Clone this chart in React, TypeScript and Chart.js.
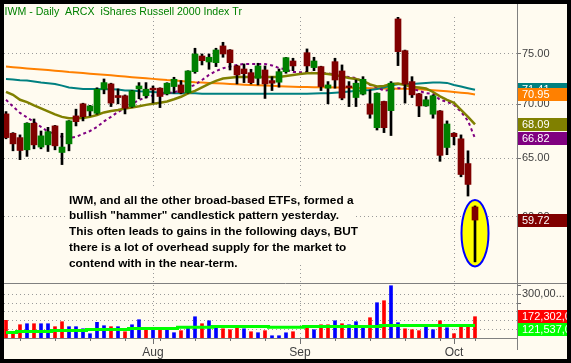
import React, { useEffect, useRef } from 'react';
import { Chart, registerables } from 'chart.js';

Chart.register(...registerables);

const FONT = "'Liberation Sans', Arial, sans-serif";
const CREAM = '#fffbf0';
const GRID = '#9a9a9a';
const AXIS = '#808080';

const TITLE = 'IWM - Daily  ARCX  iShares Russell 2000 Index Tr';
const NOTE_LINES = [
  'IWM, and all the other broad-based ETFs, formed a',
  'bullish "hammer" candlestick pattern yesterday.',
  'This often leads to gains in the following days, BUT',
  'there is a lot of overhead supply for the market to',
  'contend with in the near-term.',
];

// Daily slots, early Jul 2008 .. Oct 6 2008 (slot 42 = Labor Day, no trading)
const SLOT_COUNT = 68;
const MONTH_SLOTS = [21, 42, 64];
const MONTH_LABELS = ['Aug', 'Sep', 'Oct'];
const WEEK_SLOTS = [2, 7, 12, 17, 22, 27, 32, 37, 47, 52, 57, 62, 67];
const PRICE_TICKS = [60, 65, 70, 75];
const PRICE_MIN = 54.78;
const PRICE_MAX = 78.9;
const VOLUME_TICKS = [100, 150, 200, 250, 300, 350];
const VOLUME_GRID_MAX = 300;
const VOLUME_LABELED_TICK = 300;
const VOLUME_MIN = 50;
const VOLUME_MAX = 365.7;

const opens = [69.08, 67.27, 66.87, 65.76, 68.2, 66.01, 66.21, 67.95, 65.52, 66.3, 68.89, 70.04, 69.36, 69.14, 71.46, 71.98, 70.84, 70.82, 69.78, 71.49, 70.82, 71.56, 71.56, 71.01, 71.72, 71.88, 71.13, 73.2, 74.79, 74.18, 74.11, 75.83, 75.41, 73.78, 73.47, 73.1, 72.54, 73.37, 72.31, 72.15, 73.2, 74.28, null, 75.13, 73.61, 73.71, 71.56, 74.21, 73.27, 71.78, 70.65, 70.98, 70.04, 67.79, 70.27, 69.39, 78.69, 75.34, 72.21, 71.01, 69.84, 69.05, 69.36, 65.97, 67.27, 66.76, 64.53, 60.8];
const highs = [69.3, 67.33, 67.12, 68.25, 68.6, 67.48, 67.82, 68.0, 67.27, 68.45, 69.53, 70.1, 69.9, 71.6, 72.47, 72.05, 71.49, 70.9, 71.35, 72.11, 72.11, 71.78, 71.6, 72.1, 72.64, 72.31, 73.3, 75.59, 75.0, 75.0, 75.59, 76.21, 75.45, 73.85, 73.98, 73.44, 74.05, 73.78, 72.7, 73.47, 74.65, 74.56, null, 75.52, 74.66, 73.75, 72.21, 74.56, 73.88, 72.21, 72.37, 72.7, 71.39, 71.1, 70.3, 72.21, 79.05, 75.4, 72.7, 71.05, 70.75, 70.9, 69.4, 68.42, 67.33, 67.12, 65.67, 60.89];
const lows = [66.76, 65.67, 64.88, 65.17, 65.85, 65.85, 65.61, 65.76, 64.44, 65.67, 67.95, 68.42, 68.89, 69.05, 71.01, 69.78, 70.04, 69.08, 69.7, 70.53, 70.59, 70.14, 69.68, 70.9, 71.07, 71.01, 71.07, 73.04, 73.88, 73.44, 73.71, 74.66, 73.37, 71.98, 72.11, 71.98, 71.88, 70.56, 71.33, 71.66, 73.04, 73.3, null, 73.2, 73.3, 71.33, 70.04, 71.56, 70.43, 69.78, 69.78, 70.9, 68.67, 67.57, 67.33, 67.06, 73.81, 70.11, 70.65, 68.82, 69.8, 68.67, 64.73, 65.32, 66.21, 63.37, 61.72, 56.39];
const closes = [66.87, 66.3, 65.7, 68.2, 66.21, 67.03, 67.42, 66.12, 66.01, 68.42, 68.35, 68.82, 69.84, 71.46, 72.11, 70.11, 70.65, 69.62, 71.3, 71.78, 71.46, 71.39, 70.75, 72.05, 72.44, 71.13, 73.27, 75.0, 74.31, 74.66, 75.41, 75.0, 74.11, 72.87, 73.0, 72.11, 73.78, 71.98, 72.05, 73.2, 74.62, 73.78, null, 73.78, 74.28, 71.72, 71.88, 72.37, 70.6, 71.62, 72.05, 72.44, 69.05, 71.07, 67.79, 72.05, 75.24, 71.95, 70.91, 69.84, 70.43, 70.82, 65.26, 68.13, 66.96, 63.57, 62.71, 59.72];

// volume, millions of shares; volumeUp: 1 = blue (up) bar, 0 = red (down) bar
const volumes = [151.6, 78.7, 126.3, 132, 132, 132, 132, 115, 143.6, 115, 115, 103, 74.7, 140, 120.6, 115, 115, 86, 126, 155, 97.6, 109, 109, 97.6, 80.4, 92, 115, 172, 132, 149, 120.6, 103, 97.6, 109, 103, 86, 80.4, 92, 63, 63, 80, 86, null, 115, 97.6, 126, 126, 149, 132, 126, 143.6, 120.6, 166.5, 252.6, 264, 350, 138, 103, 97.6, 92, 115, 97.6, 149, 109, 74.7, 120.6, 120.6, 172.302];
const volumeUp = [0, 0, 0, 1, 0, 1, 1, 0, 0, 1, 1, 1, 1, 1, 1, 0, 1, 0, 1, 1, 0, 1, 0, 1, 1, 0, 1, 1, 0, 1, 1, 0, 0, 0, 1, 0, 1, 0, 1, 1, 1, 0, null, 0, 1, 0, 0, 1, 0, 1, 1, 1, 0, 1, 0, 1, 1, 0, 0, 0, 1, 1, 0, 1, 0, 0, 0, 0];
const volumeMA = [82, 82, 88, 88, 88, 88, 88, 93.6, 93.6, 93.6, 93.6, 93.6, 99, 99, 99, 99, 99, 99, 105, 105, 105, 105, 105, 105, 105, 111, 111, 111, 111, 111, 116.6, 116.6, 116.6, 116.6, 116.6, 116.6, 116.6, 116.6, 111, 111, 111, 111, 111, 116.6, 116.6, 116.6, 116.6, 116.6, 116.6, 116.6, 116.6, 116.6, 116.6, 116.6, 121.5, 121.5, 121.5, 121.5, 121.5, 121.5, 121.5, 121.5, 121.5, 121.5, 121.5, 121.5, 121.5, 121.537];

// price moving averages
const maOrange = [73.71, 73.65, 73.59, 73.53, 73.47, 73.42, 73.36, 73.3, 73.24, 73.17, 73.12, 73.06, 73.0, 72.94, 72.89, 72.83, 72.77, 72.71, 72.65, 72.6, 72.54, 72.48, 72.42, 72.36, 72.32, 72.26, 72.2, 72.14, 72.11, 72.08, 72.04, 72.01, 71.98, 71.95, 71.91, 71.88, 71.85, 71.82, 71.79, 71.76, 71.73, 71.7, 71.68, 71.67, 71.66, 71.65, 71.64, 71.63, 71.62, 71.61, 71.59, 71.57, 71.55, 71.54, 71.53, 71.52, 71.51, 71.5, 71.48, 71.46, 71.41, 71.36, 71.31, 71.25, 71.19, 71.12, 71.06, 70.95];
const maTeal = [72.47, 72.42, 72.35, 72.31, 72.23, 72.13, 72.05, 71.98, 71.81, 71.62, 71.56, 71.49, 71.49, 71.47, 71.46, 71.46, 71.44, 71.34, 71.33, 71.27, 71.23, 71.18, 71.13, 71.1, 71.07, 71.07, 71.07, 71.07, 71.01, 71.01, 71.01, 71.01, 71.01, 71.01, 71.01, 71.01, 71.01, 71.01, 71.01, 71.01, 71.01, 71.01, 71.01, 71.01, 71.04, 71.07, 71.07, 71.12, 71.17, 71.23, 71.28, 71.34, 71.39, 71.49, 71.63, 71.83, 71.95, 71.98, 71.98, 72.03, 72.08, 72.11, 72.11, 72.08, 71.88, 71.72, 71.56, 71.41];
const maOlive = [71.2, 70.91, 70.43, 70.2, 69.89, 69.6, 69.32, 69.03, 68.8, 68.67, 68.67, 68.7, 68.8, 68.98, 69.22, 69.36, 69.45, 69.6, 69.7, 69.8, 69.94, 70.04, 70.14, 70.27, 70.48, 70.72, 71.05, 71.3, 71.63, 71.98, 72.28, 72.52, 72.6, 72.67, 72.67, 72.67, 72.67, 72.67, 72.67, 72.67, 72.77, 72.87, 72.97, 73.04, 73.04, 73.04, 72.97, 72.87, 72.72, 72.57, 72.47, 72.28, 71.93, 71.73, 71.78, 71.98, 72.03, 71.88, 71.68, 71.63, 71.53, 71.19, 70.76, 70.43, 70.14, 69.46, 68.8, 68.09];
const maPurple = [70.43, 69.78, 69.17, 68.75, 68.33, 67.86, 67.42, 67.18, 66.94, 66.82, 66.94, 67.21, 67.48, 67.86, 68.37, 68.8, 69.27, 69.62, 70.04, 70.4, 70.69, 70.86, 70.98, 71.07, 71.16, 71.34, 71.63, 71.88, 72.37, 72.87, 73.27, 73.54, 73.72, 73.88, 73.98, 73.98, 73.98, 73.98, 73.83, 73.57, 73.42, 73.17, 73.14, 73.14, 73.07, 73.04, 73.04, 72.92, 72.7, 72.67, 72.57, 72.18, 71.88, 71.63, 71.33, 71.39, 71.56, 71.56, 71.53, 71.3, 71.07, 71.01, 70.43, 70.24, 69.94, 69.27, 68.42, 66.82];

const slots = Array.from({ length: SLOT_COUNT }, (_, i) => i);
const traded = slots.filter((i) => opens[i] != null);
const lastSlot = traded[traded.length - 1];

const fmtVolume = (v: number) => Math.round(v * 1e6).toLocaleString('en-US');

const decorPlugin = {
  id: 'decor',
  beforeDatasetsDraw(chart: any) {
    const { ctx } = chart;
    const x = chart.scales.x;
    const y = chart.scales.y;
    const cx = x.getPixelForValue(lastSlot);
    const top = y.getPixelForValue(highs[lastSlot]) - 6;
    const bot = y.getPixelForValue(lows[lastSlot]) + 4.5;
    ctx.save();
    ctx.beginPath();
    ctx.ellipse(cx, (top + bot) / 2, 13.5, (bot - top) / 2, 0, 0, Math.PI * 2);
    ctx.fillStyle = '#ffff00';
    ctx.fill();
    ctx.lineWidth = 2;
    ctx.strokeStyle = '#0000ff';
    ctx.stroke();
    ctx.restore();
  },
  afterDraw(chart: any) {
    const { ctx, chartArea } = chart;
    const x = chart.scales.x;
    const y = chart.scales.y;
    const vol = chart.scales.vol;
    const W = chart.width;
    const H = chart.height;
    ctx.save();

    // separator between panes and right axis line
    ctx.strokeStyle = AXIS;
    ctx.lineWidth = 1;
    ctx.beginPath();
    ctx.moveTo(chartArea.left, Math.round(y.bottom) + 0.5);
    ctx.lineTo(W, Math.round(y.bottom) + 0.5);
    ctx.moveTo(Math.round(chartArea.right) + 0.5, 0);
    ctx.lineTo(Math.round(chartArea.right) + 0.5, H - 9);
    ctx.stroke();

    // weekly minor ticks
    ctx.strokeStyle = '#707070';
    ctx.beginPath();
    WEEK_SLOTS.forEach((s) => {
      const px = Math.round(x.getPixelForValue(s)) + 0.5;
      ctx.moveTo(px, chartArea.bottom);
      ctx.lineTo(px, chartArea.bottom + 3);
    });
    ctx.stroke();

    // title
    ctx.font = `10.6px ${FONT}`;
    ctx.fillStyle = '#008000';
    ctx.textBaseline = 'alphabetic';
    ctx.textAlign = 'left';
    ctx.fillText(TITLE, 0.5, 11);

    // note
    const noteLeft = chartArea.left + 61;
    const noteTop = 184;
    ctx.fillStyle = CREAM;
    ctx.fillRect(noteLeft, noteTop, 291, 77);
    ctx.font = `bold 11.8px ${FONT}`;
    ctx.fillStyle = '#000000';
    NOTE_LINES.forEach((line, k) => {
      ctx.fillText(line, noteLeft + 4, noteTop + 15.5 + k * 15.8);
    });

    // value tags on the right axis
    const right = chartArea.right + 1;
    const tag = (cy: number, bg: string, text: string) => {
      ctx.fillStyle = bg;
      ctx.fillRect(right, Math.round(cy - 6.5), 70, 13);
      ctx.fillStyle = '#ffffff';
      ctx.font = `11px ${FONT}`;
      ctx.textBaseline = 'middle';
      ctx.fillText(text, right + 4, Math.round(cy - 6.5) + 7);
    };
    tag(y.getPixelForValue(maTeal[lastSlot]), '#008080', maTeal[lastSlot].toFixed(2));
    tag(y.getPixelForValue(maOrange[lastSlot]), '#ff8000', maOrange[lastSlot].toFixed(2));
    tag(y.getPixelForValue(maOlive[lastSlot]), '#808000', maOlive[lastSlot].toFixed(2));
    tag(y.getPixelForValue(maPurple[lastSlot]), '#800080', maPurple[lastSlot].toFixed(2));
    tag(y.getPixelForValue(closes[lastSlot]), '#800000', closes[lastSlot].toFixed(2));

    ctx.save();
    ctx.beginPath();
    ctx.rect(right, vol.top + 1, 100, vol.bottom - vol.top - 1);
    ctx.clip();
    const vy = vol.getPixelForValue(volumes[lastSlot]);
    const my = Math.max(vol.getPixelForValue(volumeMA[lastSlot]), vy + 13);
    tag(vy, '#ff0000', fmtVolume(volumes[lastSlot]));
    tag(my, '#00ff00', fmtVolume(volumeMA[lastSlot]));
    ctx.restore();

    ctx.restore();
  },
};

export default function App() {
  const ref = useRef<HTMLCanvasElement | null>(null);

  useEffect(() => {
    document.body.style.margin = '0';
    const canvas = ref.current;
    if (!canvas) return;
    const tickFont = { family: FONT, size: 11 };

    const line = (label: string, values: number[], color: string, width: number, order: number, extra: any = {}) => ({
      type: 'line',
      label,
      data: slots.map((i) => ({ x: i, y: values[i] })),
      borderColor: color,
      borderWidth: width,
      pointRadius: 0,
      tension: 0,
      fill: false,
      yAxisID: 'y',
      order,
      ...extra,
    });

    const chart = new Chart(canvas, {
      type: 'bar',
      data: {
        datasets: [
          line('EMA', maOlive, '#808000', 2.5, 3) as any,
          line('MA short', maPurple, '#800080', 2, 4, { borderDash: [3, 3] }) as any,
          line('MA mid', maTeal, '#008080', 2, 5) as any,
          line('MA long', maOrange, '#ff8000', 2, 6) as any,
          {
            type: 'bar',
            label: 'Range',
            data: traded.map((i) => ({ x: i, y: [lows[i], highs[i]] })),
            backgroundColor: '#000000',
            barThickness: 2,
            grouped: false,
            yAxisID: 'y',
            order: 2,
          } as any,
          {
            type: 'bar',
            label: 'Body',
            data: traded.map((i) => ({ x: i, y: [opens[i], closes[i]] })),
            backgroundColor: traded.map((i) => ((closes[i] as number) >= (opens[i] as number) ? '#008000' : '#800000')),
            barThickness: 6,
            minBarLength: 1,
            grouped: false,
            yAxisID: 'y',
            order: 1,
          } as any,
          {
            type: 'bar',
            label: 'Volume',
            data: traded.map((i) => ({ x: i, y: volumes[i] })),
            base: VOLUME_MIN,
            backgroundColor: traded.map((i) => (volumeUp[i] ? '#0000ff' : '#ff0000')),
            barThickness: 3,
            grouped: false,
            yAxisID: 'vol',
            order: 8,
          } as any,
          {
            type: 'line',
            label: 'Volume MA',
            data: slots.map((i) => ({ x: i, y: volumeMA[i] })),
            borderColor: '#00ff00',
            borderWidth: 3,
            pointRadius: 0,
            stepped: 'middle',
            yAxisID: 'vol',
            order: 7,
          } as any,
        ],
      },
      options: {
        responsive: false,
        maintainAspectRatio: false,
        animation: false,
        devicePixelRatio: 1,
        events: [],
        layout: { padding: { top: 13, left: 0, right: 0, bottom: 0 } },
        plugins: { legend: { display: false }, tooltip: { enabled: false }, title: { display: false } },
        scales: {
          x: {
            type: 'linear',
            position: 'bottom',
            offset: false,
            min: -2 / 7,
            max: -2 / 7 + 513 / 7,
            afterBuildTicks: (s: any) => {
              s.ticks = MONTH_SLOTS.map((v) => ({ value: v }));
            },
            afterFit: (s: any) => {
              s.height = 21;
            },
            ticks: {
              autoSkip: false,
              maxRotation: 0,
              padding: 1,
              color: '#404040',
              font: { family: FONT, size: 12 },
              callback: (v: any) => MONTH_LABELS[MONTH_SLOTS.indexOf(Number(v))] ?? '',
            },
            grid: { offset: false, color: GRID, lineWidth: 1, tickLength: 6, tickColor: '#707070', tickBorderDash: [] },
            border: { display: true, color: AXIS, dash: [1, 3] },
          },
          y: {
            type: 'logarithmic',
            position: 'right',
            stack: 'panes',
            stackWeight: 266,
            min: PRICE_MIN,
            max: PRICE_MAX,
            afterBuildTicks: (s: any) => {
              s.ticks = PRICE_TICKS.map((v) => ({ value: v }));
            },
            afterFit: (s: any) => {
              s.width = 50;
            },
            ticks: {
              autoSkip: false,
              padding: 1,
              color: '#404040',
              font: tickFont,
              callback: (v: any) => Number(v).toFixed(2),
            },
            grid: { color: GRID, lineWidth: 1, tickLength: 4, tickColor: '#707070', tickBorderDash: [] },
            border: { display: true, color: AXIS, dash: [1, 3] },
          },
          vol: {
            type: 'linear',
            position: 'right',
            stack: 'panes',
            stackWeight: 55,
            min: VOLUME_MIN,
            max: VOLUME_MAX,
            afterBuildTicks: (s: any) => {
              s.ticks = VOLUME_TICKS.map((v) => ({ value: v }));
            },
            afterFit: (s: any) => {
              s.width = 50;
            },
            ticks: {
              autoSkip: false,
              padding: 1,
              color: '#404040',
              font: tickFont,
              callback: (v: any) => (Number(v) === VOLUME_LABELED_TICK ? '300,00...' : ''),
            },
            grid: {
              color: (c: any) => (c.tick && c.tick.value <= VOLUME_GRID_MAX ? GRID : 'rgba(0,0,0,0)'),
              lineWidth: 1,
              tickLength: 4,
              tickColor: '#707070',
              tickBorderDash: [],
            },
            border: { display: true, color: AXIS, dash: [1, 3] },
          },
        } as any,
      },
      plugins: [decorPlugin],
    } as any);

    return () => chart.destroy();
  }, []);

  return (
    <div style={{ width: 571, height: 363, background: '#000', position: 'relative', overflow: 'hidden' }}>
      <div style={{ position: 'absolute', left: 4, top: 4, width: 563, height: 355, background: CREAM }}>
        <canvas ref={ref} width={563} height={355} style={{ display: 'block', width: 563, height: 355 }} />
      </div>
    </div>
  );
}
